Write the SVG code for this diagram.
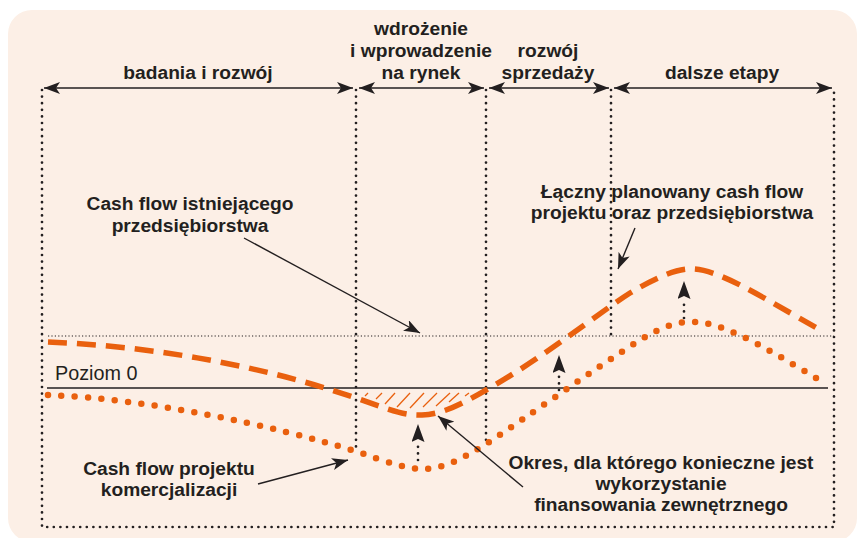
<svg xmlns="http://www.w3.org/2000/svg" width="862" height="538" viewBox="0 0 862 538">
  <defs>
    <style>
      .lbl { font-family: "Liberation Sans", Arial, sans-serif; font-weight: bold; font-size: 19.2px; fill: #231f20; text-anchor: middle; }
      .reg { font-family: "Liberation Sans", Arial, sans-serif; font-size: 19.8px; fill: #231f20; }
      .dots { fill: none; stroke: #231f20; stroke-width: 2.7; stroke-linecap: round; stroke-dasharray: 0 6.6; }
      .fine { fill: none; stroke: #231f20; stroke-width: 1.1; stroke-dasharray: 1.2 2.2; }
      .ptr { fill: none; stroke: #231f20; stroke-width: 1.4; }
      .orange-dash { fill: none; stroke: #e9600e; stroke-width: 5.5; stroke-dasharray: 19 10; }
      .orange-dot { fill: none; stroke: #e9600e; stroke-width: 6.5; stroke-linecap: round; stroke-dasharray: 0 13.4; }
      .hatch { stroke: #e9600e; stroke-width: 1.3; }
    </style>
    <marker id="head" viewBox="0 0 16 12" refX="16" refY="6" markerWidth="16" markerHeight="12" markerUnits="userSpaceOnUse" orient="auto-start-reverse">
      <path d="M0,0 L16,6 L0,12 L4,6 Z" fill="#231f20"/>
    </marker>
    <marker id="headV" viewBox="0 0 18 13" refX="18" refY="6.5" markerWidth="18" markerHeight="13" markerUnits="userSpaceOnUse" orient="auto">
      <path d="M0,0 L18,6.5 L0,13 L3,6.5 Z" fill="#231f20"/>
    </marker>
  </defs>

  <!-- panel background -->
  <rect x="8" y="10" width="849" height="532" rx="24" fill="#fcefe6"/>

  <!-- phase boundaries -->
  <g id="grid">
    <path class="dots" d="M42,90 V527 H834 V90"/>
    <path class="dots" d="M356,90 V448"/>
    <path class="dots" d="M486,90 V442"/>
    <path class="dots" d="M611,90 V335"/>
    <path class="fine" d="M48,336 H834"/>
    <line x1="47" y1="388" x2="828" y2="388" stroke="#231f20" stroke-width="1.4"/>
  </g>

  <!-- phase span arrows -->
  <g id="spans">
    <line class="ptr" x1="44" y1="88" x2="353" y2="88" marker-start="url(#head)" marker-end="url(#head)"/>
    <line class="ptr" x1="359" y1="88" x2="484" y2="88" marker-start="url(#head)" marker-end="url(#head)"/>
    <line class="ptr" x1="489" y1="88" x2="609" y2="88" marker-start="url(#head)" marker-end="url(#head)"/>
    <line class="ptr" x1="614" y1="88" x2="832" y2="88" marker-start="url(#head)" marker-end="url(#head)"/>
  </g>

  <!-- phase labels -->
  <g id="phase-labels">
    <text class="lbl" x="198" y="79">badania i rozwój</text>
    <text class="lbl" x="421" y="35">wdrożenie</text>
    <text class="lbl" x="421" y="57">i wprowadzenie</text>
    <text class="lbl" x="421" y="79">na rynek</text>
    <text class="lbl" x="548" y="57">rozwój</text>
    <text class="lbl" x="548" y="79">sprzedaży</text>
    <text class="lbl" x="722" y="79">dalsze etapy</text>
  </g>

  <!-- financing gap hatch -->
  <g id="gap-hatch">
    <line class="hatch" x1="365" y1="396" x2="368" y2="393"/>
    <line class="hatch" x1="376" y1="399" x2="382" y2="393"/>
    <line class="hatch" x1="385" y1="404" x2="395" y2="393"/>
    <line class="hatch" x1="397" y1="407" x2="410" y2="393"/>
    <line class="hatch" x1="410" y1="408" x2="424" y2="393"/>
    <line class="hatch" x1="423" y1="407" x2="437" y2="393"/>
    <line class="hatch" x1="436" y1="406" x2="450" y2="393"/>
    <line class="hatch" x1="449" y1="402" x2="459" y2="393"/>
    <line class="hatch" x1="465" y1="396" x2="469" y2="393"/>
  </g>

  <!-- cash flow curves -->
  <g id="curve-total">
    <path class="orange-dash" d="M48,342 C150,346 260,365 356,398 C390,410 405,416 422,415 C445,414 465,402 486,390 C540,360 600,312 630,293 C660,275 680,268 693,269 C720,270 760,296 822,331"/>
  </g>
  <g id="curve-project">
    <path class="orange-dot" d="M48,395 C150,399 270,425 355,451 C385,461 405,469 422,469 C445,469 465,457 486,444 C530,415 590,372 640,340 C665,325 680,321 696,322 C730,324 780,357 823,382"/>
  </g>

  <!-- connectors -->
  <g id="connectors">
    <line class="ptr" x1="244" y1="238" x2="420" y2="333" marker-end="url(#head)"/>
    <line class="ptr" x1="635" y1="228" x2="618" y2="269" marker-end="url(#head)"/>
    <line class="ptr" x1="258" y1="484" x2="348" y2="460" marker-end="url(#head)"/>
    <line class="ptr" x1="523" y1="487" x2="438" y2="416" marker-end="url(#head)"/>
    <path class="dots" d="M418,460 V445"/>
    <line x1="418" y1="442" x2="418" y2="424" stroke="none" marker-end="url(#headV)"/>
    <path class="dots" d="M559,390 V376"/>
    <line x1="559" y1="374" x2="559" y2="355" stroke="none" marker-end="url(#headV)"/>
    <path class="dots" d="M684,318 V302"/>
    <line x1="684" y1="300" x2="684" y2="281" stroke="none" marker-end="url(#headV)"/>
  </g>

  <!-- annotations -->
  <g id="label-existing">
    <text class="lbl" x="190" y="210">Cash flow istniejącego</text>
    <text class="lbl" x="190" y="232">przedsiębiorstwa</text>
  </g>
  <g id="label-total">
    <text class="lbl" x="672" y="198">Łączny planowany cash flow</text>
    <text class="lbl" x="672" y="219">projektu oraz przedsiębiorstwa</text>
  </g>
  <g id="label-zero">
    <text class="reg" x="55" y="380">Poziom 0</text>
  </g>
  <g id="label-project">
    <text class="lbl" x="169" y="475">Cash flow projektu</text>
    <text class="lbl" x="169" y="496">komercjalizacji</text>
  </g>
  <g id="label-gap">
    <text class="lbl" x="661" y="469">Okres, dla którego konieczne jest</text>
    <text class="lbl" x="661" y="490">wykorzystanie</text>
    <text class="lbl" x="661" y="511">finansowania zewnętrznego</text>
  </g>
</svg>
